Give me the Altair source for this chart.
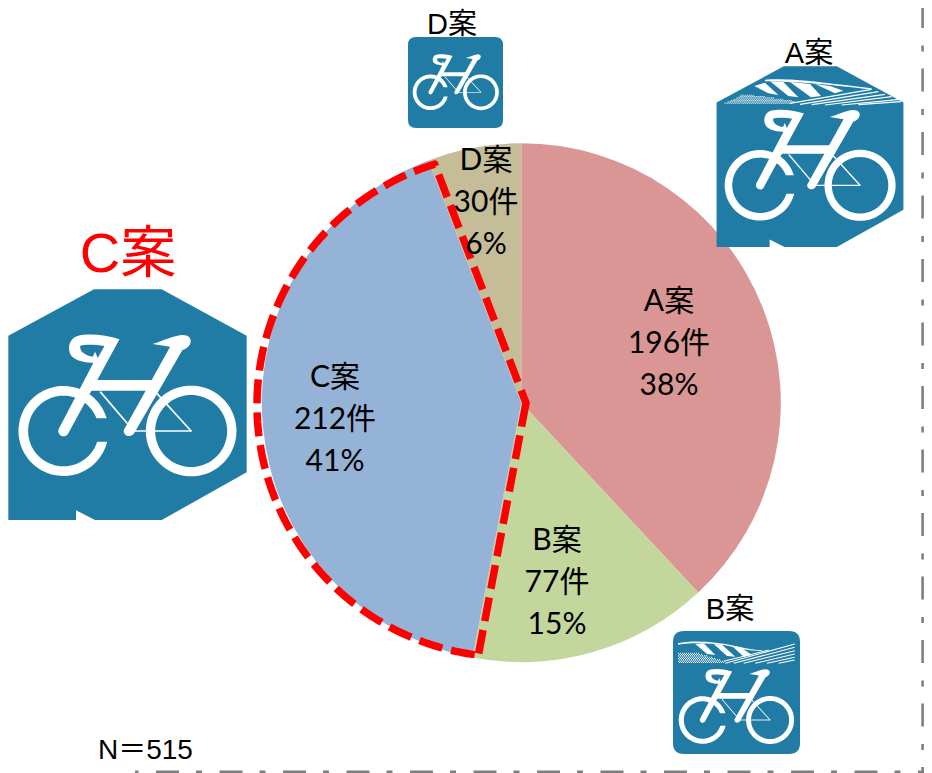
import math
import altair as alt
import pandas as pd

# ---- chart values ----
plans = ["A案", "B案", "C案", "D案"]
counts = [196, 77, 212, 30]
percents = ["38%", "15%", "41%", "6%"]
colors = ["#D99694", "#C3D69B", "#95B3D7", "#C4BD97"]
total_label = "N＝515"

# ---- layout (page pixels) ----
OX, OY = 8, 8
CX, CY, R = 521.3, 402.7, 259.5
label_pos = {"A案": (669, 311), "B案": (557, 550), "C案": (335, 387), "D案": (486, 170)}
LINE = 42
ICON = "#217CA5"
SANS = '"Liberation Sans", "Noto Sans CJK JP"'
BODY = 'Lato, "Noto Sans CJK JP"'


def poly(pts):
    return "M" + " L".join(f"{x:.2f},{y:.2f}" for x, y in pts) + " Z"


def seg(a, b, w):
    dx, dy = b[0] - a[0], b[1] - a[1]
    n = math.hypot(dx, dy)
    ux, uy = -dy / n * w / 2, dx / n * w / 2
    return poly([(a[0] + ux, a[1] + uy), (b[0] + ux, b[1] + uy), (b[0] - ux, b[1] - uy), (a[0] - ux, a[1] - uy)])


def circle(cx, cy, r, rev=False):
    pts = [(cx + r * math.cos(t / 96 * 2 * math.pi), cy + r * math.sin(t / 96 * 2 * math.pi)) for t in range(96)]
    return poly(pts[::-1] if rev else pts)


def c_ring(cx, cy, ro, ri, top, bot):
    # ring of the front wheel, open on the right between two horizontal cuts
    a0 = math.asin((top - cy) / ro)
    a1 = math.asin((bot - cy) / ro)
    b0 = math.asin((top - cy) / ri)
    b1 = math.asin((bot - cy) / ri)
    n = 90
    outer = [(cx + ro * math.cos(a0 - (2 * math.pi - (a1 - a0)) * i / n),
              cy + ro * math.sin(a0 - (2 * math.pi - (a1 - a0)) * i / n)) for i in range(n + 1)]
    inner = [(cx + ri * math.cos(b1 + (2 * math.pi - (b1 - b0)) * i / n),
              cy + ri * math.sin(b1 + (2 * math.pi - (b1 - b0)) * i / n)) for i in range(n + 1)]
    return poly(outer + inner)


def rrect(x0, y0, x1, y1, r):
    return (f"M{x0+r},{y0} L{x1-r},{y0} Q{x1},{y0} {x1},{y0+r} L{x1},{y1-r} Q{x1},{y1} {x1-r},{y1} "
            f"L{x0+r},{y1} Q{x0},{y1} {x0},{y1-r} L{x0},{y0+r} Q{x0},{y0} {x0+r},{y0} Z")


def inside(p, pts):
    x, y = p
    hit = False
    for i in range(len(pts)):
        (x0, y0), (x1, y1) = pts[i], pts[(i + 1) % len(pts)]
        if (y0 > y) != (y1 > y) and x < x0 + (y - y0) / (y1 - y0) * (x1 - x0):
            hit = not hit
    return hit


def dots(pts, step=6, d=3.2):
    xs = [p[0] for p in pts]
    ys = [p[1] for p in pts]
    out = []
    y, row = min(ys), 0
    while y <= max(ys):
        x = min(xs) + (row % 2) * step / 2
        while x <= max(xs):
            if inside((x, y), pts):
                out.append(poly([(x, y), (x + d, y), (x + d, y + d), (x, y + d)]))
            x += step
        y += step / 2 + 1
        row += 1
    return " ".join(out)


OCTAGON = poly([(23, 347), (280, 208), (483, 208), (738, 347), (738, 757), (483, 900),
                (283, 900), (226, 871), (226, 900), (23, 900)])

BIKE = [
    (c_ring(190, 633, 135, 106, 595, 665), "white"),
    (circle(573, 633, 136) + " " + circle(573, 633, 108, True), "white"),
    (seg((300, 515), (383, 612), 5), "white"),
    (seg((470, 520), (573, 633), 5), "white"),
    (seg((400, 633), (575, 633), 5), "white"),
    ("M358,358 C320,345 268,340 235,347 C205,353 197,395 220,413 C235,425 262,428 280,428 "
     "L176,626 C168,642 190,658 203,643 Z", "white"),
    ("M240,378 C255,372 290,375 313,378 L293,414 L285,395 L278,410 C262,408 238,398 240,378 Z", ICON),
    ("M290,480 L460,480 L443,512 L272,512 Z", "white"),
    ("M457,372 C490,362 520,347 545,345 C565,344 575,355 571,368 C568,380 555,388 547,390 "
     "L402,640 C392,655 368,648 371,630 L510,380 Z", "white"),
]
BIKE_CX, BIKE_CY = 381.5, 633
OCT_CX, OCT_CY = 380.5, 554

ROOF_A = [
    "M150,59 C220,54 300,64 470,85 L466,89 C330,72 250,65 150,64 Z",
    poly([(118, 78), (150, 68), (190, 105), (160, 100)]),
    poly([(165, 64), (205, 66), (250, 112), (220, 108)]),
    poly([(225, 66), (285, 72), (318, 108), (288, 112)]),
    poly([(300, 72), (345, 78), (385, 92), (360, 100)]),
    seg((225, 130), (470, 88), 3.4), seg((255, 133), (490, 95), 3.4), seg((290, 134), (510, 103), 3.4),
    seg((330, 135), (530, 110), 3.4), seg((380, 135), (555, 118), 3.4), seg((430, 134), (558, 125), 3.4),
    dots([(20, 132), (85, 100), (150, 108), (240, 122), (225, 132)]),
]
ROOF_B = [
    "M18,40 C60,30 130,35 190,48 C220,55 240,60 270,60 L270,63 C230,63 200,55 160,46 C110,38 60,38 18,44 Z",
    poly([(70, 42), (95, 40), (130, 75), (105, 72)]),
    poly([(125, 42), (150, 44), (190, 80), (165, 78)]),
    poly([(180, 48), (210, 55), (240, 75), (215, 80)]),
    seg((160, 100), (368, 42), 3), seg((185, 100), (368, 52), 3), seg((215, 100), (368, 62), 3),
    seg((250, 100), (368, 72), 3), seg((285, 100), (368, 82), 3), seg((320, 100), (368, 90), 3),
    seg((155, 94), (290, 60), 3),
    dots([(18, 68), (80, 68), (155, 92), (155, 100), (18, 100)]),
]

rows = []


def add(path, x, y, s, fill):
    rows.append({"path": path, "x": x - OX, "y": y - OY, "size": (2 * s) ** 2, "fill": fill})


def add_bike(wx, wy, s):
    for path, fill in BIKE:
        add(path, wx - s * BIKE_CX, wy - s * BIKE_CY, s, fill)


# C icon
sC = 1 / 3
add(OCTAGON, 127.5 - sC * OCT_CX, 404.7 - sC * OCT_CY, sC, ICON)
add_bike(127.3, 431, sC)
# A icon
sA = 0.784 / 3
add(OCTAGON, 810 - sA * OCT_CX, 156.7 - sA * OCT_CY, sA, ICON)
for p in ROOF_A:
    add(p, 715, 60, 1 / 3, "white")
add_bike(810, 185.3, sA)
# B icon
add(rrect(673, 631, 800, 754, 11), 0, 0, 1, ICON)
for p in ROOF_B:
    add(p, 672, 630, 1 / 3, "white")
add_bike(736.3, 720, 0.529 / 3)
# D icon
add(rrect(408, 37, 503, 128, 8), 0, 0, 1, ICON)
add_bike(455.7, 92.3, 0.395 / 3)

icons = alt.Chart(pd.DataFrame(rows)).mark_point(filled=True, opacity=1, strokeWidth=0).encode(
    x=alt.X("x:Q", scale=None, axis=None),
    y=alt.Y("y:Q", scale=None, axis=None),
    shape=alt.Shape("path:N", scale=None, legend=None),
    size=alt.Size("size:Q", scale=None, legend=None),
    color=alt.Color("fill:N", scale=None, legend=None),
)

# pie
pie_df = pd.DataFrame({"plan": plans, "count": counts, "order": range(4)})
pie = alt.Chart(pie_df).mark_arc(outerRadius=R, innerRadius=0).encode(
    theta=alt.Theta("count:Q", stack=True),
    order=alt.Order("order:Q"),
    color=alt.Color("plan:N", scale=alt.Scale(domain=plans, range=colors), legend=None),
    x=alt.value(CX - OX),
    y=alt.value(CY - OY),
)

# red freeform outline of the C slice
ax, ay, ar = 509, 405, 252
a_start = math.atan2(657 - ay, 478 - ax)
a_end = math.atan2(165 - ay, 435 - ax)
if a_end < a_start:
    a_end += 2 * math.pi
arc_pts = [(ax + ar * math.cos(a_start + (a_end - a_start) * i / 120),
            ay + ar * math.sin(a_start + (a_end - a_start) * i / 120)) for i in range(121)]
outline_path = poly([(526, 403), (478, 657)] + arc_pts + [(435, 165)])
outline = alt.Chart(pd.DataFrame({"path": [outline_path], "x": [-OX], "y": [-OY]})).mark_point(
    filled=False, size=4, stroke="#FF0000", strokeWidth=7.5, opacity=1,
    strokeDash=[24, 9], strokeJoin="round",
).encode(
    x=alt.X("x:Q", scale=None, axis=None),
    y=alt.Y("y:Q", scale=None, axis=None),
    shape=alt.Shape("path:N", scale=None, legend=None),
)

# pie labels
label_rows = []
for plan, cnt, pct in zip(plans, counts, percents):
    lx, ly = label_pos[plan]
    for i, line in enumerate([plan, f"{cnt}件", pct]):
        label_rows.append({"t": line, "x": lx - OX, "y": ly - OY + i * LINE})
pie_labels = alt.Chart(pd.DataFrame(label_rows)).mark_text(
    font=BODY, fontSize=30, color="black", align="center", baseline="alphabetic"
).encode(x=alt.X("x:Q", scale=None, axis=None), y=alt.Y("y:Q", scale=None, axis=None), text="t:N")

# outer labels
out_pos = {"A案": (809, 63), "B案": (730, 619), "D案": (452, 34)}
out_df = pd.DataFrame([{"t": k, "x": v[0] - OX, "y": v[1] - OY} for k, v in out_pos.items()])
out_labels = alt.Chart(out_df).mark_text(
    font=SANS, fontSize=29, color="black", align="center", baseline="alphabetic"
).encode(x=alt.X("x:Q", scale=None, axis=None), y=alt.Y("y:Q", scale=None, axis=None), text="t:N")
red_label = alt.Chart(pd.DataFrame({"t": ["C案"], "x": [128 - OX], "y": [272 - OY]})).mark_text(
    font=SANS, fontSize=56, color="#FF0000", align="center", baseline="alphabetic"
).encode(x=alt.X("x:Q", scale=None, axis=None), y=alt.Y("y:Q", scale=None, axis=None), text="t:N")
n_label = alt.Chart(pd.DataFrame({"t": [total_label], "x": [98 - OX], "y": [759 - OY]})).mark_text(
    font=SANS, fontSize=28, color="black", align="left", baseline="alphabetic"
).encode(x=alt.X("x:Q", scale=None, axis=None), y=alt.Y("y:Q", scale=None, axis=None), text="t:N")

# grey dash-dot frame: the page cannot show anything right of x=924, so it stands at its last visible column
GREY = "#7F7F7F"
DASH = [23, 17.5, 6, 17]
frame_v = alt.Chart(pd.DataFrame({"a": [0]})).mark_rule(
    stroke=GREY, strokeWidth=2.6, strokeDash=DASH, strokeDashOffset=3
).encode(x=alt.value(922.6 - OX), y=alt.value(0), y2=alt.value(771.7 - OY))
frame_h = alt.Chart(pd.DataFrame({"a": [0]})).mark_rule(
    stroke=GREY, strokeWidth=2.4, strokeDash=DASH, strokeDashOffset=17
).encode(y=alt.value(771.7 - OY), x=alt.value(924 - OX), x2=alt.value(135 - OX))

chart = alt.layer(
    pie, icons, outline, pie_labels, out_labels, red_label, n_label, frame_v, frame_h
).resolve_scale(
    color="independent", shape="independent", size="independent"
).properties(
    width=916, height=765, padding=0, autosize=alt.AutoSizeParams(type="none")
).configure_view(stroke=None)

chart.save("out.html", embed_options={"renderer": "svg", "actions": False})
